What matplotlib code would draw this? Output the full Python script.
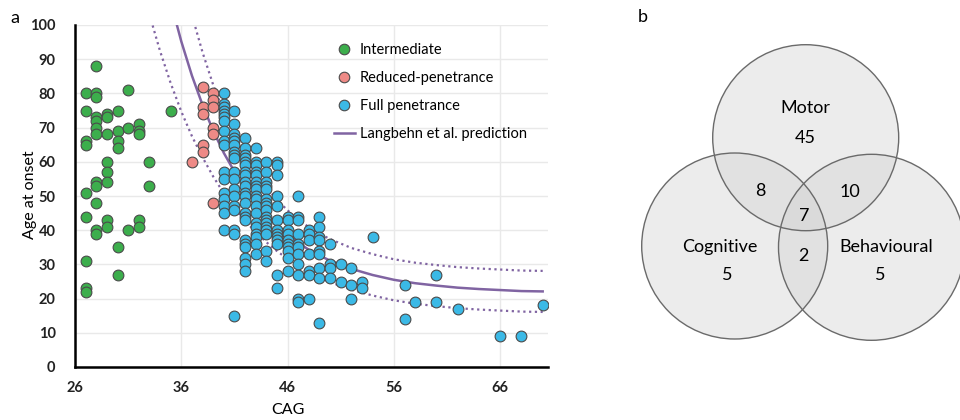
#Age at onset vs CAG (panel a) and symptom overlap Venn (panel b)

#Import Libraries
import numpy as np
import matplotlib
matplotlib.use('Agg')
import matplotlib.pyplot as plt
from matplotlib.patches import Circle
from matplotlib.lines import Line2D

plt.rcParams['font.family'] = ['Lato', 'DejaVu Sans']

#Data
# Intermediate alleles
inter_cag = [27, 27, 27, 27, 27, 27, 27, 27, 27,
             28, 28, 28, 28, 28, 28, 28, 28, 28, 28, 28, 28,
             29, 29, 29, 29, 29, 29, 29, 29,
             30, 30, 30, 30, 30, 30,
             31, 31, 31,
             32, 32, 32, 32, 32,
             33, 33,
             35]
inter_age = [80, 75, 66, 65, 51, 44, 31, 23, 22,
             88, 80, 79, 73, 72, 70, 68, 54, 53, 48, 40, 39,
             74, 73, 68, 60, 57, 54, 43, 41,
             75, 69, 66, 64, 35, 27,
             81, 70, 40,
             71, 69, 68, 43, 41,
             60, 53,
             75]

# Reduced penetrance
reduced_cag = [37, 38, 38, 38, 38, 38, 39, 39, 39, 39, 39, 39]
reduced_age = [60, 82, 76, 74, 65, 63, 80, 78, 76, 70, 68, 48]

# Full penetrance, one list of ages per CAG value
full_cols = [40, 41, 42, 43, 44, 45, 46, 47, 48, 49, 50, 51, 52, 53, 54, 57, 58, 60, 62, 66, 68, 70]
full_ages = [
    [80, 77, 76, 75, 74, 73, 72, 69, 66, 65, 57, 55, 51, 49, 47, 45, 40],
    [75, 71, 68, 67, 66, 65, 63, 62, 61, 57, 55, 52, 50, 47, 46, 40, 39, 15],
    [67, 64, 62, 61, 60, 59, 57, 56, 54, 53, 51, 50, 48, 45, 44, 43, 37, 36, 35, 32, 30, 28],
    [64, 60, 59, 57, 56, 54, 53, 52, 50, 49, 47, 45, 42, 41, 39, 38, 36, 33],
    [60, 57, 54, 53, 52, 49, 48, 47, 46, 44, 43, 42, 41, 40, 39, 34, 31],
    [60, 59, 56, 50, 47, 43, 40, 39, 38, 37, 36, 27, 23],
    [44, 43, 40, 39, 37, 36, 35, 34, 32, 28],
    [50, 44, 43, 39, 36, 35, 33, 30, 27, 20, 19],
    [40, 39, 37, 33, 28, 27, 20],
    [44, 41, 38, 37, 34, 33, 29, 26, 13],
    [36, 30, 29, 26],
    [30, 25],
    [29, 24, 20],
    [25, 23],
    [38],
    [24, 14],
    [19],
    [27, 19],
    [17],
    [9],
    [9],
    [18],
]

# Langbehn et al. prediction (mean and +/- 1 SD), read at these CAG values
curve_cag = [33, 34, 35, 36, 37, 38, 39, 40, 41, 42, 43, 44, 45, 46, 47, 48, 49, 50,
             52, 54, 56, 58, 60, 62, 64, 66, 68, 70]
curve_mean = [135.7, 120.2, 106.8, 95.2, 85.2, 76.6, 69.1, 62.6, 57.1, 52.2, 48.1, 44.5, 41.4,
              38.7, 36.3, 34.3, 32.6, 31.1, 28.7, 26.9, 25.5, 24.5, 23.8, 23.2, 22.8, 22.5, 22.2, 22.1]
curve_upper = [168.3, 148.0, 130.7, 115.7, 102.9, 92.0, 82.5, 74.4, 67.6, 61.7, 56.7, 52.5, 48.9,
               45.8, 43.1, 40.9, 39.0, 37.4, 34.8, 33.0, 31.5, 30.5, 29.8, 29.2, 28.8, 28.5, 28.2, 28.1]
curve_lower = [103.1, 92.4, 83.0, 74.7, 67.5, 61.3, 55.7, 50.8, 46.6, 42.7, 39.5, 36.5, 33.9,
               31.6, 29.5, 27.7, 26.2, 24.8, 22.6, 20.9, 19.5, 18.5, 17.8, 17.2, 16.8, 16.5, 16.2, 16.1]

# Venn counts
venn_sets = ['Motor', 'Cognitive', 'Behavioural']
venn_only = [45, 5, 5]
venn_motor_cog = 8
venn_motor_beh = 10
venn_cog_beh = 2
venn_all = 7

#Colours
green = '#3cae4c'
salmon = '#ee8a86'
blue = '#3bb9e6'
purple = '#8064a2'
edge = '#4a4a4a'

full_cag = np.concatenate([[c] * len(a) for c, a in zip(full_cols, full_ages)])
full_age = np.concatenate(full_ages)

fig = plt.figure(figsize=(9.6, 4.2), dpi=100)

#Panel a
ax = fig.add_axes([75 / 960, 1 - 367 / 420, 473 / 960, 342 / 420])
ax.plot(curve_cag, curve_upper, color=purple, lw=1.6, ls=(0, (1, 1.6)), zorder=2)
ax.plot(curve_cag, curve_lower, color=purple, lw=1.6, ls=(0, (1, 1.6)), zorder=2)
ax.plot(curve_cag, curve_mean, color=purple, lw=1.8, zorder=2)

ms = 60
ax.scatter(inter_cag, inter_age, s=ms, c=green, edgecolors=edge, linewidths=0.8, zorder=3)
ax.scatter(reduced_cag, reduced_age, s=ms, c=salmon, edgecolors=edge, linewidths=0.8, zorder=3)
ax.scatter(full_cag, full_age, s=ms, c=blue, edgecolors=edge, linewidths=0.8, zorder=3)

ax.set_xlim(26, 70.5)
ax.set_ylim(0, 100)
ax.set_xticks([26, 36, 46, 56, 66])
ax.set_yticks(np.arange(0, 101, 10))
ax.grid(True, color='#e9e9e9', lw=1, zorder=0)
ax.set_axisbelow(True)
for s in ['top', 'right']:
    ax.spines[s].set_visible(False)
for s in ['left', 'bottom']:
    ax.spines[s].set_linewidth(1.8)
    ax.spines[s].set_color('black')
ax.tick_params(axis='both', length=0, labelsize=10.5)
ax.tick_params(axis='y', pad=14)
ax.tick_params(axis='x', pad=10)
for lab in ax.get_xticklabels() + ax.get_yticklabels():
    lab.set_fontweight('bold')
    lab.set_color('#222222')

fig.text(288 / 960, 1 - 410 / 420, 'CAG', ha='center', va='center', fontsize=11.5)
fig.text(30 / 960, 1 - 195 / 420, 'Age at onset', ha='center', va='center', rotation=90, fontsize=11.5)

handles = [
    Line2D([], [], ls='', marker='o', ms=7.6, mfc=green, mec=edge, mew=0.8),
    Line2D([], [], ls='', marker='o', ms=7.6, mfc=salmon, mec=edge, mew=0.8),
    Line2D([], [], ls='', marker='o', ms=7.6, mfc=blue, mec=edge, mew=0.8),
    Line2D([], [], color=purple, lw=1.8),
]
labels = ['Intermediate', 'Reduced-penetrance', 'Full penetrance', 'Langbehn et al. prediction']
ax.legend(handles, labels, loc='upper left', bbox_to_anchor=(0.548, 0.948), frameon=False,
          fontsize=10.5, handlelength=1.4, handletextpad=0.35, labelspacing=0.97,
          borderpad=0, borderaxespad=0)

fig.text(15 / 960, 1 - 18 / 420, 'a', ha='center', va='center', fontsize=13)
fig.text(643 / 960, 1 - 17 / 420, 'b', ha='center', va='center', fontsize=13)

#Panel b: Venn diagram (drawn in pixel coordinates)
vx = fig.add_axes([600 / 960, 0, 360 / 960, 1])
vx.set_xlim(600, 960)
vx.set_ylim(420, 0)
vx.axis('off')

centres = [(805.7, 137.7), (734.7, 246.0), (871.5, 247.3)]
r = 93
for c in centres:
    vx.add_patch(Circle(c, r, facecolor='#d0d0d0', alpha=0.39, edgecolor='none', zorder=1))
for c in centres:
    vx.add_patch(Circle(c, r, facecolor='none', edgecolor='#6a6a6a', lw=1.0, zorder=2))

fs = 13
vx.text(805, 108, venn_sets[0], ha='center', va='center', fontsize=fs)
vx.text(805, 138, str(venn_only[0]), ha='center', va='center', fontsize=fs)
vx.text(720, 247, venn_sets[1], ha='center', va='center', fontsize=fs)
vx.text(727, 275, str(venn_only[1]), ha='center', va='center', fontsize=fs)
vx.text(886, 247, venn_sets[2], ha='center', va='center', fontsize=fs)
vx.text(880, 275, str(venn_only[2]), ha='center', va='center', fontsize=fs)
vx.text(760, 191, str(venn_motor_cog), ha='center', va='center', fontsize=fs)
vx.text(850, 192, str(venn_motor_beh), ha='center', va='center', fontsize=fs)
vx.text(804, 216, str(venn_all), ha='center', va='center', fontsize=fs)
vx.text(803, 256, str(venn_cog_beh), ha='center', va='center', fontsize=fs)

fig.savefig('out.png', dpi=100)
